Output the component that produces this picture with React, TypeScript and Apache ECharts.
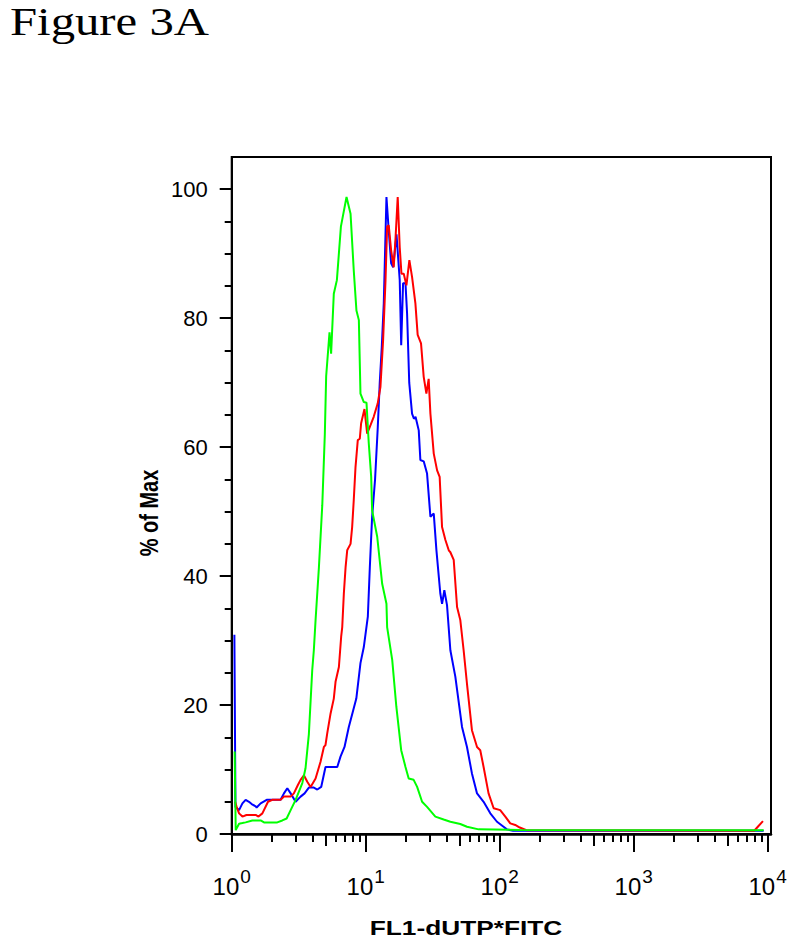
import React, { useEffect, useRef } from "react";
import * as echarts from "echarts";

// x values are log10(FL1-dUTP*FITC intensity), y values are % of Max
const blueSeries: [number, number][] = [
  [0.02, 30.9], [0.028, 4.2], [0.055, 3.7], [0.08, 4.75], [0.104, 5.3], [0.129, 5.0],
  [0.149, 4.65], [0.179, 4.3], [0.186, 4.1], [0.216, 4.75], [0.261, 5.3], [0.365, 5.3],
  [0.39, 6.3], [0.415, 7.1], [0.44, 6.3], [0.477, 5.0], [0.514, 5.8], [0.544, 6.3],
  [0.576, 7.2], [0.613, 7.2], [0.639, 6.9], [0.668, 7.3], [0.7, 10.4], [0.788, 10.4],
  [0.812, 12.0], [0.842, 13.5], [0.874, 16.6], [0.907, 19.2], [0.93, 21.0], [0.961, 26.5],
  [0.986, 29.0], [1.016, 33.7], [1.031, 41.4], [1.048, 49.2], [1.07, 55.0], [1.09, 63.0],
  [1.105, 70.0], [1.12, 75.5], [1.135, 82.3], [1.155, 98.8], [1.172, 93.6], [1.19, 88.5],
  [1.205, 87.9], [1.23, 93.0], [1.254, 85.9], [1.265, 75.8], [1.279, 85.4], [1.297, 85.4],
  [1.309, 80.7], [1.325, 70.0], [1.346, 65.2], [1.36, 64.4], [1.372, 64.7], [1.396, 62.6],
  [1.408, 58.0], [1.433, 57.8], [1.458, 55.9], [1.483, 49.2], [1.508, 49.7], [1.528, 44.0],
  [1.557, 37.3], [1.57, 35.7], [1.587, 37.8], [1.607, 35.5], [1.632, 28.5], [1.669, 24.4],
  [1.719, 16.6], [1.756, 13.5], [1.793, 9.4], [1.831, 6.3], [1.88, 5.0], [1.93, 3.2],
  [1.98, 1.9], [2.029, 1.13], [2.054, 0.72], [2.1, 0.5], [3.97, 0.5],
];

const redSeries: [number, number][] = [
  [0.025, 5.0], [0.037, 4.2], [0.055, 3.2], [0.08, 2.7], [0.11, 2.95], [0.179, 2.95],
  [0.2, 2.7], [0.229, 3.2], [0.271, 5.0], [0.303, 5.3], [0.365, 5.3], [0.39, 5.8],
  [0.44, 5.8], [0.464, 6.3], [0.494, 7.6], [0.514, 8.4], [0.539, 9.1], [0.564, 8.1],
  [0.589, 7.3], [0.626, 8.6], [0.663, 11.2], [0.688, 13.5], [0.7, 13.8], [0.713, 15.6],
  [0.738, 18.7], [0.762, 21.0], [0.775, 23.6], [0.8, 25.9], [0.817, 30.6], [0.825, 32.1],
  [0.837, 37.3], [0.85, 41.4], [0.862, 44.0], [0.887, 45.0], [0.899, 47.6], [0.911, 51.8],
  [0.924, 56.9], [0.941, 61.1], [0.956, 61.3], [0.966, 63.7], [0.991, 65.9], [1.011, 62.1],
  [1.036, 63.4], [1.06, 64.7], [1.09, 66.8], [1.11, 69.3], [1.13, 76.6], [1.148, 85.9],
  [1.16, 94.2], [1.172, 94.4], [1.19, 90.5], [1.209, 87.9], [1.222, 92.1], [1.239, 98.8],
  [1.254, 91.0], [1.267, 86.9], [1.284, 86.9], [1.304, 85.1], [1.326, 89.0], [1.346, 86.4],
  [1.371, 82.3], [1.388, 77.4], [1.413, 76.1], [1.433, 70.9], [1.453, 68.3], [1.47, 70.6],
  [1.483, 65.2], [1.508, 59.0], [1.533, 56.4], [1.552, 55.4], [1.57, 47.6], [1.595, 45.6],
  [1.62, 44.0], [1.632, 43.7], [1.657, 42.5], [1.682, 35.2], [1.706, 33.2], [1.731, 28.5],
  [1.756, 23.3], [1.793, 16.1], [1.831, 13.5], [1.855, 13.0], [1.88, 10.4], [1.917, 6.3],
  [1.955, 4.0], [2.004, 3.7], [2.042, 2.7], [2.079, 1.65], [2.116, 1.4], [2.15, 1.0],
  [2.2, 0.6], [3.9, 0.5], [3.93, 1.2], [3.965, 2.0],
];

const greenSeries: [number, number][] = [
  [0.022, 12.8], [0.03, 0.6], [0.055, 1.6], [0.08, 1.7], [0.104, 1.8], [0.154, 2.1],
  [0.216, 2.1], [0.241, 1.8], [0.34, 1.8], [0.378, 2.1], [0.41, 2.4], [0.44, 3.7],
  [0.477, 5.3], [0.527, 7.9], [0.551, 10.2], [0.576, 15.5], [0.601, 25.4], [0.613, 28.5],
  [0.626, 33.2], [0.651, 41.4], [0.676, 51.0], [0.695, 62.0], [0.705, 71.0], [0.73, 77.8],
  [0.742, 74.5], [0.762, 83.8], [0.785, 85.9], [0.815, 94.2], [0.857, 98.8], [0.887, 96.2],
  [0.911, 87.4], [0.931, 81.2], [0.949, 79.7], [0.961, 68.3], [0.986, 67.0], [1.006, 66.9],
  [1.023, 60.6], [1.041, 55.4], [1.048, 50.2], [1.086, 46.1], [1.123, 38.8], [1.155, 35.7],
  [1.16, 32.1], [1.198, 27.0], [1.229, 19.7], [1.265, 13.0], [1.297, 10.4], [1.321, 8.6],
  [1.358, 8.4], [1.384, 7.3], [1.421, 5.0], [1.458, 4.2], [1.52, 2.7], [1.582, 2.25],
  [1.632, 1.9], [1.706, 1.55], [1.756, 1.13], [1.843, 0.72], [2.15, 0.62], [3.97, 0.6],
];

const xMajorTicks = [0, 1, 2, 3, 4];
const xMidTicks = [0.699, 1.699, 2.699, 3.699];
const xMinorTicks = [
  0.301, 0.477, 0.602, 0.778, 0.845, 0.903, 0.954,
  1.301, 1.477, 1.602, 1.778, 1.845, 1.903, 1.954,
  2.301, 2.477, 2.602, 2.778, 2.845, 2.903, 2.954,
  3.301, 3.477, 3.602, 3.778, 3.845, 3.903, 3.954,
];
const yMajorTicks = [0, 20, 40, 60, 80, 100];
const yMinorTicks = [5, 10, 15, 25, 30, 35, 45, 50, 55, 65, 70, 75, 85, 90, 95];

const titleText = "Figure 3A";
const xTitle = "FL1-dUTP*FITC";
const yTitle = "% of Max";

const FONT = '"Liberation Sans", Arial, sans-serif';
const X_MAX = 4.025;
const Y_MAX = 105;

function xAxisBase(ticks: number[], len: number, showLine: boolean) {
  return {
    type: "value",
    min: 0,
    max: X_MAX,
    position: "bottom",
    axisLine: { show: showLine, onZero: false, lineStyle: { color: "#000", width: 2.5 } },
    axisTick: { show: true, customValues: ticks, length: len, lineStyle: { color: "#000", width: 2 } },
    axisLabel: { show: false },
    splitLine: { show: false },
  };
}

function yAxisBase(ticks: number[], len: number, showLine: boolean) {
  return {
    type: "value",
    min: 0,
    max: Y_MAX,
    position: "left",
    axisLine: { show: showLine, onZero: false, lineStyle: { color: "#000", width: 2 } },
    axisTick: { show: true, customValues: ticks, length: len, lineStyle: { color: "#000", width: 2 } },
    axisLabel: { show: false },
    splitLine: { show: false },
  };
}

export default function App() {
  const ref = useRef<HTMLDivElement>(null);
  useEffect(() => {
    if (!ref.current) return;
    const chart = echarts.init(ref.current, null, { renderer: "svg" });
    const xMain: any = xAxisBase(xMajorTicks, 18, true);
    xMain.axisLabel = {
      show: true,
      customValues: xMajorTicks,
      margin: 33,
      formatter: (v: number) => `{b|10}{sup|${Math.round(v)}}`,
      rich: {
        b: { fontSize: 24, fontFamily: FONT, color: "#000", verticalAlign: "bottom" },
        sup: { fontSize: 19, fontFamily: FONT, color: "#000", verticalAlign: "top", padding: [0, 0, 12, 1] },
      },
    };
    const yMain: any = yAxisBase(yMajorTicks, 12, true);
    yMain.axisLabel = {
      show: true,
      customValues: yMajorTicks,
      margin: 24,
      fontSize: 22,
      fontFamily: FONT,
      color: "#000",
      formatter: (v: number) => String(Math.round(v)),
    };
    const lineSeries = (name: string, data: [number, number][], color: string, z: number) => ({
      name,
      type: "line",
      data,
      showSymbol: false,
      symbol: "none",
      xAxisIndex: 0,
      yAxisIndex: 0,
      z,
      lineStyle: { color, width: 2 },
      itemStyle: { color },
    });
    chart.setOption({
      animation: false,
      backgroundColor: "#fff",
      grid: {
        left: 231.7,
        right: 25,
        top: 157,
        bottom: 110,
        show: true,
        borderColor: "#000",
        borderWidth: 2,
        backgroundColor: "transparent",
        containLabel: false,
        outerBoundsMode: "none",
      },
      xAxis: [xMain, xAxisBase(xMidTicks, 12, false), xAxisBase(xMinorTicks, 8, false)],
      yAxis: [yMain, yAxisBase(yMinorTicks, 7, false)],
      series: [
        lineSeries("blue", blueSeries, "#0000ff", 2),
        lineSeries("red", redSeries, "#ff0000", 3),
        lineSeries("green", greenSeries, "#00ff00", 4),
      ],
      graphic: [
        {
          type: "text",
          x: 10,
          y: 3,
          scaleX: 1.25,
          style: { text: titleText, fontSize: 39, fontFamily: '"Liberation Serif", "Times New Roman", serif', fill: "#000", align: "left", verticalAlign: "top" },
        },
        {
          type: "text",
          x: 466,
          y: 927.5,
          scaleX: 1.25,
          style: { text: xTitle, fontSize: 21, fontWeight: "bold", fontFamily: FONT, fill: "#000", align: "center", verticalAlign: "middle" },
        },
        {
          type: "text",
          x: 150,
          y: 513,
          rotation: Math.PI / 2,
          scaleY: 1.25,
          style: { text: yTitle, fontSize: 20, fontWeight: "bold", fontFamily: FONT, fill: "#000", align: "center", verticalAlign: "middle" },
        },
      ],
    });
    return () => chart.dispose();
  }, []);
  return <div ref={ref} style={{ position: "absolute", left: 0, top: 0, width: 796, height: 944 }} />;
}
